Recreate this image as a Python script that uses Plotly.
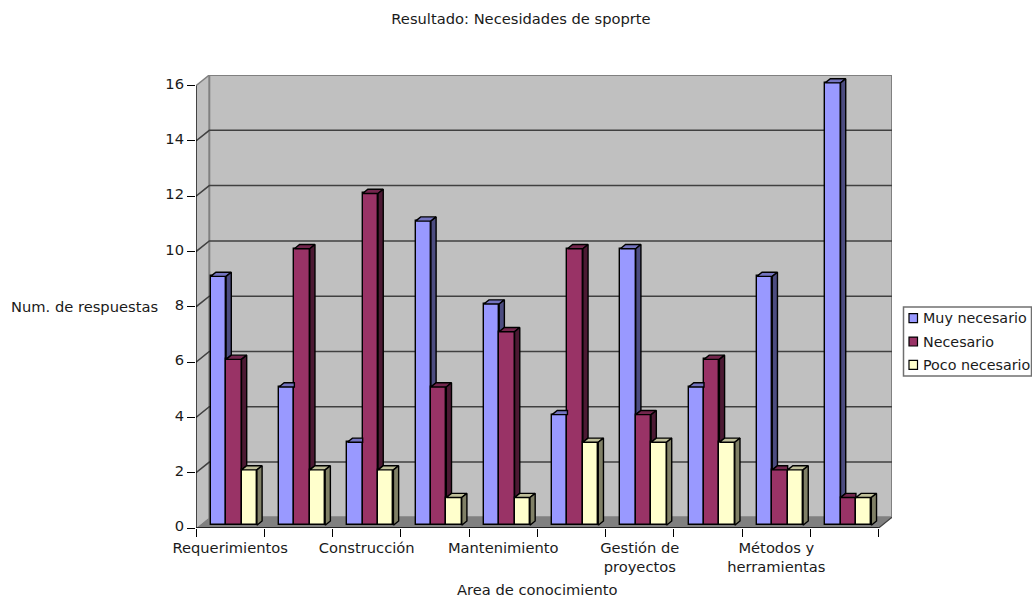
import plotly.graph_objects as go

# ---- data ----
tick_labels = ["Requerimientos", "", "Construcción", "", "Mantenimiento", "",
               "Gestión de<br>proyectos", "", "Métodos y<br>herramientas", ""]
series_names = ["Muy necesario", "Necesario", "Poco necesario"]
muy_necesario = [9, 5, 3, 11, 8, 4, 10, 5, 9, 16]
necesario = [6, 10, 12, 5, 7, 10, 4, 6, 2, 1]
poco_necesario = [2, 2, 2, 1, 1, 3, 3, 3, 2, 1]
y_ticks = [0, 2, 4, 6, 8, 10, 12, 14, 16]

front_colors = ["#9999FF", "#993366", "#FFFFCC"]
side_colors = ["#4C4C80", "#4C1933", "#808066"]
top_colors = ["#7373BF", "#73264D", "#BFBF99"]

# ---- geometry (pixels of the canvas, converted to axis units) ----
W, H = 1032, 598
PL, PR, PT, PB = 196.0, 892.0, 74.7, 528.0   # plot rectangle
FRONT_R, Y16 = 878.7, 84.0
FS = 14.7
px_x = (FRONT_R - PL) / 10
px_y = (PB - Y16) / 16
wall_dx, wall_dy = (PR - FRONT_R) / px_x, (PB - 517.3) / px_y
bar_w = 15.4 / px_x
bar_off = (210.7 - PL) / px_x - 0.5        # left edge of a group relative to category centre
bar_base = 2.8 / px_y
dep_x, dep_y = 5.2 / px_x, 4.2 / px_y
xmin, xmax = -0.5, 9.5

values = [muy_necesario, necesario, poco_necesario]
cats = list(range(len(tick_labels)))

fig = go.Figure()

# fronts
for i, (name, vals) in enumerate(zip(series_names, values)):
    fig.add_trace(go.Bar(
        x=cats, y=vals, base=bar_base, name=name, width=bar_w,
        offset=bar_off + i * bar_w,
        marker=dict(color=front_colors[i], line=dict(color="black", width=1.4)),
        showlegend=False, hoverinfo="x+y"))

# tops and sides, hidden where the next bar of the group covers them
for i, vals in enumerate(values):
    tx, ty, sx, sy = [], [], [], []
    for c, v in zip(cats, vals):
        x0 = c + bar_off + i * bar_w
        x1 = x0 + bar_w
        h = v + bar_base
        nxt = values[i + 1][c] if i < 2 else 0
        nh = nxt + bar_base
        right = x1 + dep_x if nxt < v or i == 2 else x1
        tx += [x0, x0 + dep_x, right, x1, x0, None]
        ty += [h, h + dep_y, h + dep_y, h, h, None]
        if nxt < v:
            lo = nh if i < 2 else bar_base
            sx += [x1, x1 + dep_x, x1 + dep_x, x1, x1, None]
            sy += [lo, lo + dep_y, h + dep_y, h, lo, None]
    for xs, ys, col in ((tx, ty, top_colors[i]), (sx, sy, side_colors[i])):
        fig.add_trace(go.Scatter(
            x=xs, y=ys, mode="lines", fill="toself", fillcolor=col,
            line=dict(color="black", width=1.4), showlegend=False, hoverinfo="skip"))

def poly(pts):
    return "M " + " L ".join(f"{a},{b}" for a, b in pts) + " Z"

shapes = []
wall_line = dict(color="#808080", width=2)
# side wall, back wall, floor
shapes.append(dict(type="path", layer="below", xref="x", yref="y", fillcolor="#C0C0C0",
                   line=dict(width=0),
                   path=poly([(xmin, 0), (xmin + wall_dx, wall_dy), (xmin + wall_dx, 16 + wall_dy), (xmin, 16)])))
shapes.append(dict(type="path", layer="below", xref="x", yref="y", fillcolor="#C0C0C0",
                   line=wall_line,
                   path=poly([(xmin + wall_dx, wall_dy), (xmax + wall_dx, wall_dy),
                              (xmax + wall_dx, 16 + wall_dy), (xmin + wall_dx, 16 + wall_dy)])))
shapes.append(dict(type="path", layer="below", xref="x", yref="y", fillcolor="#808080",
                   line=dict(width=0),
                   path=poly([(xmin, 0), (xmax, 0), (xmax + wall_dx, wall_dy), (xmin + wall_dx, wall_dy)])))
# grid lines on the walls
for v in y_ticks[1:-1]:
    shapes.append(dict(type="path", layer="below", xref="x", yref="y",
                       line=dict(color="#404040", width=1.5),
                       path=f"M {xmin},{v} L {xmin + wall_dx},{v + wall_dy} L {xmax + wall_dx},{v + wall_dy}"))
# outer diagonals and axes
shapes.append(dict(type="path", layer="below", xref="x", yref="y",
                   line=dict(color="#808080", width=1.5),
                   path=f"M {xmin},16 L {xmin + wall_dx},{16 + wall_dy}"))
shapes.append(dict(type="path", layer="below", xref="x", yref="y",
                   line=dict(color="#404040", width=1.2),
                   path=f"M {xmax},0 L {xmax + wall_dx},{wall_dy}"))
shapes.append(dict(type="line", xref="x", yref="y", x0=xmin, x1=xmin, y0=0, y1=16,
                   line=dict(color="black", width=1.3)))
shapes.append(dict(type="line", xref="x", yref="y", x0=xmin, x1=xmax, y0=0, y1=0,
                   line=dict(color="black", width=1.3)))

# legend, drawn to match the compact box of the reference
def px(x): return (x - PL) / (PR - PL)
def py(y): return (PB - y) / (PB - PT)
shapes.append(dict(type="rect", xref="paper", yref="paper", layer="above",
                   x0=px(903.5), x1=px(1031.5), y0=py(306.8), y1=py(376),
                   fillcolor="white", line=dict(color="#707070", width=1.5)))
annotations = []
for i, name in enumerate(series_names):
    yc = 318 + i * 23.4
    shapes.append(dict(type="rect", xref="paper", yref="paper",
                       x0=px(909), x1=px(917.5), y0=py(yc - 4.5), y1=py(yc + 4.5),
                       fillcolor=front_colors[i], line=dict(color="black", width=1.2)))
    annotations.append(dict(text=name, xref="paper", yref="paper", x=px(921), y=py(yc),
                            xanchor="left", yanchor="middle", showarrow=False,
                            font=dict(size=14.3)))

annotations.append(dict(text="Num. de respuestas", xref="paper", yref="paper",
                        x=px(84), y=py(306.5), xanchor="center", yanchor="middle",
                        showarrow=False, font=dict(size=FS)))
annotations.append(dict(text="Area de conocimiento", xref="paper", yref="paper",
                        x=px(537), y=py(590), xanchor="center", yanchor="middle",
                        showarrow=False, font=dict(size=FS)))

fig.update_layout(
    width=W, height=H, autosize=False,
    margin=dict(l=PL, r=W - PR, t=PT, b=H - PB, pad=0),
    paper_bgcolor="white", plot_bgcolor="white",
    font=dict(family="DejaVu Sans", size=FS, color="#1a1a1a"),
    title=dict(text="Resultado: Necesidades de spoprte", x=521 / W, xanchor="center",
               y=1 - 19 / H, yanchor="middle", yref="container", font=dict(size=FS)),
    showlegend=False, shapes=shapes, annotations=annotations,
    bargap=0,
    xaxis=dict(range=[xmin, xmax + wall_dx], tickmode="array",
               tickvals=cats, ticktext=tick_labels, ticks="", showgrid=False,
               zeroline=False, showline=False, tickangle=0, automargin=False,
               ticklabelstandoff=9,
               minor=dict(ticks="outside", ticklen=8, tickwidth=1.2, tickcolor="black",
                          tickmode="array", tickvals=[c - 0.5 for c in cats] + [xmax],
                          showgrid=False)),
    yaxis=dict(range=[0, 16 + wall_dy], tickmode="array", tickvals=y_ticks,
               ticks="outside", ticklen=8, tickwidth=1.2, tickcolor="black",
               ticklabelshift=-2,
               showgrid=False, zeroline=False, showline=False, automargin=False),
)

fig.write_html("out.html", config=dict(displayModeBar=False),
               post_script="document.body.style.margin='0';")
